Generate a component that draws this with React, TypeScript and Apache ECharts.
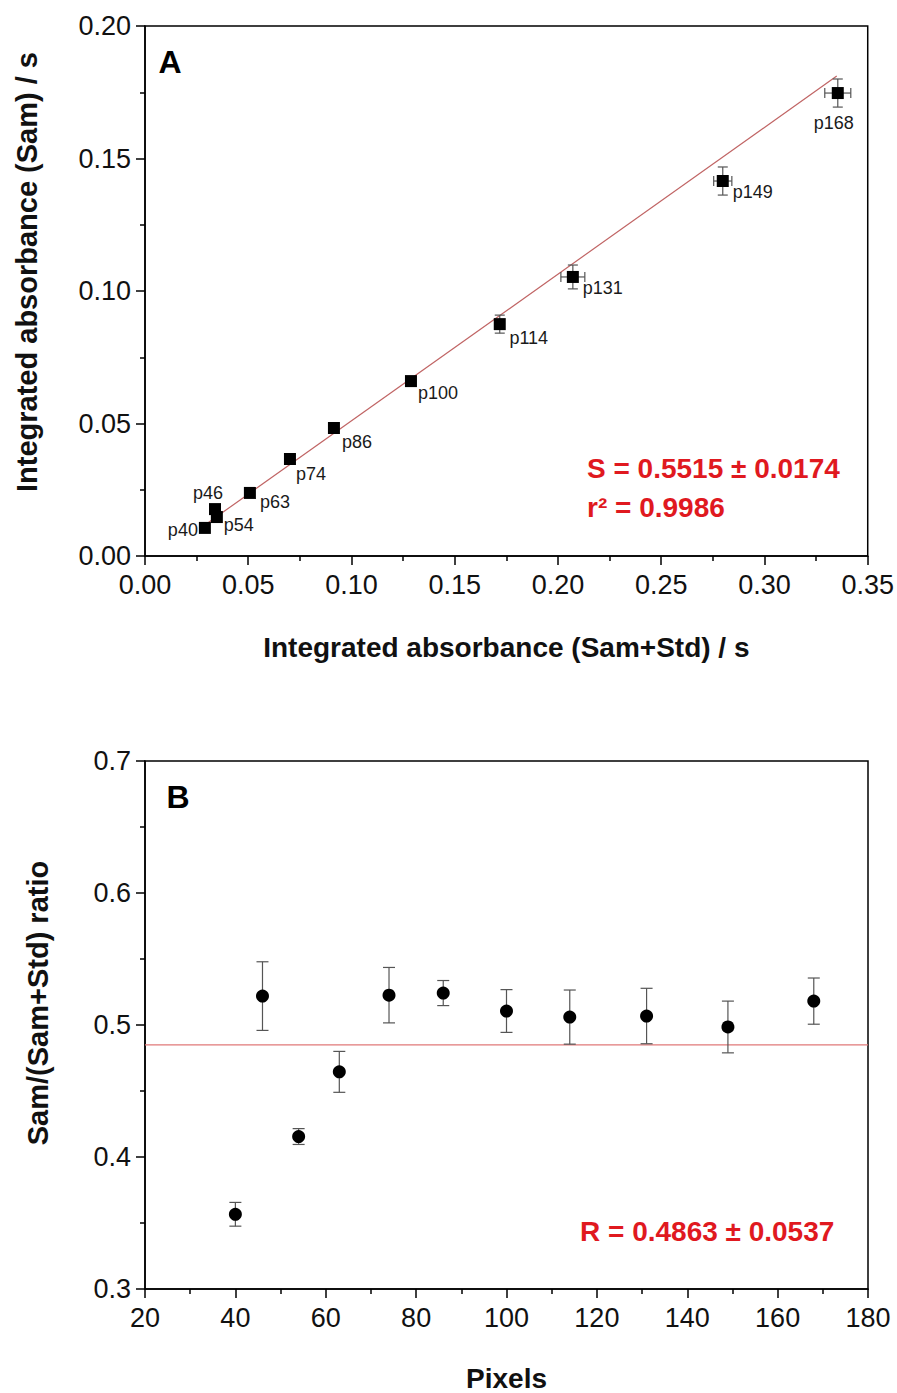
import React, { useEffect, useRef } from "react";
import * as echarts from "echarts";

// ---------- Data ----------
const pixels = [40, 46, 54, 63, 74, 86, 100, 114, 131, 149, 168];
const pointNames = pixels.map((p) => "p" + p);
// Panel A
const absSamStd = [0.029, 0.0339, 0.0348, 0.0508, 0.0702, 0.0915, 0.1288, 0.1718, 0.2072, 0.2798, 0.3355];
const absSam = [0.0106, 0.0177, 0.0147, 0.0238, 0.0366, 0.0483, 0.066, 0.0875, 0.1053, 0.1415, 0.1747];
const absSamStdErr = [0.001, 0.001, 0.001, 0.001, 0.001, 0.001, 0.001, 0.002, 0.0058, 0.0044, 0.0063];
const absSamErr = [0.0008, 0.0008, 0.0008, 0.0008, 0.0008, 0.0008, 0.0008, 0.0034, 0.0045, 0.0053, 0.0053];
const fitX = [0.029, 0.335];
const fitY = [0.0117, 0.1811];
// Panel B
const ratio = [0.3566, 0.5219, 0.4155, 0.4645, 0.5226, 0.5242, 0.5106, 0.506, 0.5068, 0.4985, 0.5181];
const ratioErr = [0.009, 0.026, 0.006, 0.0155, 0.021, 0.0095, 0.0162, 0.0205, 0.021, 0.0196, 0.0175];
const meanLineX = [20, 180];
const meanR = 0.485;

const ticksA_x = { min: 0, max: 0.35, interval: 0.05 };
const ticksA_y = { min: 0, max: 0.2, interval: 0.05 };
const ticksB_x = { min: 20, max: 180, interval: 20 };
const ticksB_y = { min: 0.3, max: 0.7, interval: 0.1 };

// label offsets (layout only)
const labelOffsets: Record<string, [number, number]> = {
  p40: [-22, 2],
  p46: [-7, -16],
  p54: [22, 8],
  p63: [25, 9],
  p74: [21, 15],
  p86: [23, 14],
  p100: [27, 12],
  p114: [29, 14],
  p131: [30, 11],
  p149: [30, 11],
  p168: [-4, 30],
};

const FONT = 'Arial, "Liberation Sans", sans-serif';
const RED = "#e0191f";

function errorBarRender(cap: number) {
  return (params: any, api: any) => {
    const x = api.value(0);
    const y = api.value(1);
    const ex = api.value(2);
    const ey = api.value(3);
    const children: any[] = [];
    const style = { stroke: "#555", lineWidth: 1.2 };
    if (ey > 0) {
      const t = api.coord([x, y + ey]);
      const b = api.coord([x, y - ey]);
      children.push({ type: "line", shape: { x1: t[0], y1: t[1], x2: b[0], y2: b[1] }, style });
      children.push({ type: "line", shape: { x1: t[0] - cap, y1: t[1], x2: t[0] + cap, y2: t[1] }, style });
      children.push({ type: "line", shape: { x1: b[0] - cap, y1: b[1], x2: b[0] + cap, y2: b[1] }, style });
    }
    if (ex > 0) {
      const l = api.coord([x - ex, y]);
      const r = api.coord([x + ex, y]);
      children.push({ type: "line", shape: { x1: l[0], y1: l[1], x2: r[0], y2: r[1] }, style });
      children.push({ type: "line", shape: { x1: l[0], y1: l[1] - cap, x2: l[0], y2: l[1] + cap }, style });
      children.push({ type: "line", shape: { x1: r[0], y1: r[1] - cap, x2: r[0], y2: r[1] + cap }, style });
    }
    return { type: "group", children };
  };
}

function axisCommon(fmt: (v: number) => string, margin: number) {
  return {
    axisLine: { show: true, onZero: false, lineStyle: { color: "#000", width: 1.5 } },
    axisTick: { show: true, inside: false, length: 9, lineStyle: { color: "#000", width: 1.5 } },
    minorTick: { show: true, splitNumber: 2, length: 5, lineStyle: { color: "#000", width: 1.5 } },
    splitLine: { show: false },
    minorSplitLine: { show: false },
    axisLabel: { color: "#111", fontSize: 27, fontFamily: FONT, formatter: fmt, margin },
    nameLocation: "middle" as const,
    nameTextStyle: { color: "#111", fontSize: 28, fontWeight: "bold" as const, fontFamily: FONT },
  };
}

export default function App() {
  const ref = useRef<HTMLDivElement>(null);
  useEffect(() => {
    document.body.style.margin = "0";
    if (!ref.current) return;
    const chart = echarts.init(ref.current, undefined, { renderer: "svg" });

    const scatterA = absSamStd.map((x, i) => {
      const name = pointNames[i];
      return {
        name,
        value: [x, absSam[i]],
        label: {
          show: true,
          formatter: name,
          position: "inside",
          offset: labelOffsets[name],
          color: "#1a1a1a",
          fontSize: 18,
          fontFamily: FONT,
        },
      };
    });
    const errA = absSamStd.map((x, i) => [x, absSam[i], absSamStdErr[i], absSamErr[i]]);
    const scatterB = pixels.map((p, i) => [p, ratio[i]]);
    const errB = pixels.map((p, i) => [p, ratio[i], 0, ratioErr[i]]);

    const option: any = {
      animation: false,
      backgroundColor: "#fff",
      grid: [
        { left: 145, top: 26, width: 723, height: 530, show: true, borderColor: "#000", borderWidth: 1.5, backgroundColor: "transparent" },
        { left: 145, top: 761, width: 723, height: 530, show: true, borderColor: "#000", borderWidth: 1.5, backgroundColor: "transparent" },
      ],
      xAxis: [
        {
          ...axisCommon((v: number) => v.toFixed(2), 15),
          gridIndex: 0,
          type: "value",
          ...ticksA_x,
          name: "Integrated absorbance (Sam+Std) / s",
          nameGap: 77,
        },
        {
          ...axisCommon((v: number) => String(Math.round(v)), 15),
          gridIndex: 1,
          type: "value",
          ...ticksB_x,
          name: "Pixels",
          nameGap: 75,
        },
      ],
      yAxis: [
        {
          ...axisCommon((v: number) => v.toFixed(2), 14),
          gridIndex: 0,
          type: "value",
          ...ticksA_y,
        },
        {
          ...axisCommon((v: number) => v.toFixed(1), 14),
          gridIndex: 1,
          type: "value",
          ...ticksB_y,
        },
      ],
      series: [
        {
          type: "line",
          xAxisIndex: 0,
          yAxisIndex: 0,
          data: fitX.map((x, i) => [x, fitY[i]]),
          symbol: "none",
          lineStyle: { color: "#c06464", width: 1.2 },
          z: 1,
        },
        {
          type: "custom",
          xAxisIndex: 0,
          yAxisIndex: 0,
          data: errA,
          encode: { x: 0, y: 1 },
          renderItem: errorBarRender(5),
          z: 2,
        },
        {
          type: "scatter",
          xAxisIndex: 0,
          yAxisIndex: 0,
          data: scatterA,
          symbol: "rect",
          symbolSize: 12,
          itemStyle: { color: "#000", opacity: 1 },
          z: 3,
        },
        {
          type: "line",
          xAxisIndex: 1,
          yAxisIndex: 1,
          data: meanLineX.map((x) => [x, meanR]),
          symbol: "none",
          lineStyle: { color: "#e07878", width: 1.2 },
          z: 1,
        },
        {
          type: "custom",
          xAxisIndex: 1,
          yAxisIndex: 1,
          data: errB,
          encode: { x: 0, y: 1 },
          renderItem: errorBarRender(6),
          z: 2,
        },
        {
          type: "scatter",
          xAxisIndex: 1,
          yAxisIndex: 1,
          data: scatterB,
          symbol: "circle",
          symbolSize: 13,
          itemStyle: { color: "#000", opacity: 1 },
          z: 3,
        },
      ],
      graphic: [
        {
          type: "text",
          x: 27,
          y: 272,
          rotation: Math.PI / 2,
          style: { text: "Integrated absorbance (Sam) / s", font: `bold 29px ${FONT}`, fill: "#111", textAlign: "center", textVerticalAlign: "middle" },
        },
        {
          type: "text",
          x: 38,
          y: 1003,
          rotation: Math.PI / 2,
          style: { text: "Sam/(Sam+Std) ratio", font: `bold 29px ${FONT}`, fill: "#111", textAlign: "center", textVerticalAlign: "middle" },
        },
        { type: "text", x: 170, y: 62, style: { text: "A", font: `bold 32px ${FONT}`, fill: "#000", textAlign: "center", textVerticalAlign: "middle" } },
        { type: "text", x: 178, y: 797, style: { text: "B", font: `bold 32px ${FONT}`, fill: "#000", textAlign: "center", textVerticalAlign: "middle" } },
        {
          type: "text",
          x: 587,
          y: 468,
          style: { text: "S = 0.5515 ± 0.0174", font: `bold 28px ${FONT}`, fill: RED, textVerticalAlign: "middle" },
        },
        {
          type: "text",
          x: 587,
          y: 507,
          style: { text: "r² = 0.9986", font: `bold 28px ${FONT}`, fill: RED, textVerticalAlign: "middle" },
        },
        {
          type: "text",
          x: 580,
          y: 1231,
          style: { text: "R = 0.4863 ± 0.0537", font: `bold 28px ${FONT}`, fill: RED, textVerticalAlign: "middle" },
        },
      ],
    };
    chart.setOption(option);
    return () => chart.dispose();
  }, []);
  return <div ref={ref} style={{ width: 897, height: 1393 }} />;
}
